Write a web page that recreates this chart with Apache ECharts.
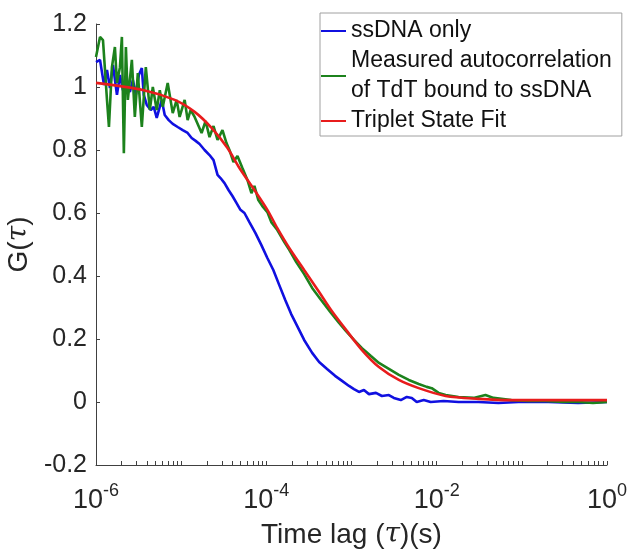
<!DOCTYPE html>
<html>
<head>
<meta charset="utf-8">
<script src="https://cdn.jsdelivr.net/npm/echarts@6/dist/echarts.min.js"></script>
<style>
html,body{margin:0;padding:0;background:#fff;}
#chart{width:627px;height:550px;}
</style>
</head>
<body>
<div id="chart"></div>
<script>
// x values are log10 of the time lag tau (s)
const seriesNames = ['ssDNA only', 'Measured autocorrelation\nof TdT bound to ssDNA', 'Triplet State Fit'];

const blueLogTau = [-6,-5.953,-5.906,-5.871,-5.836,-5.801,-5.754,-5.719,-5.684,-5.649,-5.602,-5.567,-5.532,-5.497,-5.462,-5.439,-5.404,-5.357,-5.322,-5.287,-5.251,-5.228,-5.193,-5.146,-5.099,-5.041,-4.982,-4.924,-4.877,-4.830,-4.784,-4.725,-4.667,-4.620,-4.573,-4.538,-4.491,-4.444,-4.398,-4.351,-4.304,-4.257,-4.199,-4.129,-4.058,-3.988,-3.918,-3.848,-3.778,-3.708,-3.637,-3.556,-3.462,-3.380,-3.287,-3.193,-3.111,-3.029,-2.971,-2.912,-2.854,-2.795,-2.713,-2.643,-2.561,-2.503,-2.421,-2.351,-2.292,-2.234,-2.152,-2.070,-1.918,-1.743,-1.509,-1.275,-1.041,-0.690,-0.339,0];
const blueG = [1.079,1.086,1.006,1.054,0.997,1.070,0.975,1.038,0.990,1.022,0.984,1.022,0.975,1.038,1.060,0.975,0.943,0.927,0.937,0.902,0.937,0.959,0.911,0.895,0.883,0.873,0.863,0.854,0.838,0.829,0.819,0.800,0.784,0.768,0.721,0.711,0.695,0.673,0.654,0.632,0.610,0.600,0.571,0.537,0.498,0.457,0.419,0.371,0.324,0.279,0.241,0.197,0.156,0.127,0.105,0.083,0.067,0.051,0.041,0.032,0.038,0.025,0.029,0.019,0.022,0.013,0.006,0.016,0.013,0.000,0.006,0.000,0.003,0.000,0.000,-0.003,0.000,0.000,-0.003,0.000];

const greenLogTau = [-6,-5.953,-5.918,-5.871,-5.848,-5.813,-5.778,-5.754,-5.719,-5.696,-5.673,-5.649,-5.626,-5.579,-5.544,-5.509,-5.462,-5.415,-5.368,-5.333,-5.287,-5.251,-5.216,-5.158,-5.099,-5.053,-5.018,-4.959,-4.924,-4.889,-4.842,-4.760,-4.713,-4.667,-4.620,-4.573,-4.515,-4.468,-4.433,-4.386,-4.339,-4.281,-4.222,-4.175,-4.140,-4.094,-4.047,-3.988,-3.942,-3.871,-3.789,-3.731,-3.649,-3.556,-3.462,-3.357,-3.240,-3.146,-3.064,-2.971,-2.877,-2.772,-2.678,-2.561,-2.444,-2.327,-2.211,-2.117,-2.058,-1.977,-1.895,-1.743,-1.567,-1.427,-1.333,-1.123,-0.924,-0.725,-0.515,-0.339,-0.164,0];
const greenG = [1.095,1.159,1.149,0.959,0.873,1.063,1.127,1.013,1.063,1.159,0.790,1.127,0.959,1.086,0.905,1.044,0.873,1.063,0.927,1.000,0.927,0.990,0.937,1.013,0.917,0.959,0.905,0.959,0.895,0.927,0.905,0.854,0.892,0.841,0.876,0.832,0.863,0.822,0.800,0.762,0.781,0.743,0.705,0.663,0.686,0.641,0.622,0.603,0.571,0.546,0.508,0.483,0.444,0.406,0.362,0.324,0.283,0.251,0.225,0.197,0.171,0.146,0.124,0.105,0.086,0.070,0.057,0.048,0.044,0.029,0.022,0.016,0.013,0.022,0.013,0.006,0.003,0.003,0.000,0.000,-0.003,0.000];

const redLogTau = [-6,-5.439,-5.076,-4.842,-4.643,-4.456,-4.316,-4.140,-3.988,-3.871,-3.731,-3.556,-3.380,-3.240,-3.064,-2.877,-2.678,-2.444,-2.211,-1.895,-1.509,-1.123,-0.573,0];
const redG = [1.013,0.990,0.959,0.921,0.870,0.806,0.743,0.673,0.610,0.552,0.489,0.419,0.349,0.292,0.229,0.165,0.111,0.070,0.044,0.019,0.010,0.006,0.006,0.006];

const xLabelExps = [-6, -4, -2, 0];
const decadeTickOffsets = [0, 0.301, 0.477, 0.602, 0.699, 0.778, 0.845, 0.903, 0.954];
const yTicks = [-0.2, 0, 0.2, 0.4, 0.6, 0.8, 1, 1.2];

const colors = ['#1010e0', '#1c821c', '#e81c1c'];

function pairs(xs, ys) { return xs.map((x, i) => [x, ys[i]]); }

const xTickValues = [];
for (let d = -6; d < 0; d++) decadeTickOffsets.forEach(o => xTickValues.push(d + o));
xTickValues.push(0);

const font = '"Liberation Sans", Arial, Helvetica, sans-serif';
const txt = '#262626';
const axisCol = '#404040';

const chart = echarts.init(document.getElementById('chart'), null, {renderer: 'canvas'});
chart.setOption({
  animation: false,
  backgroundColor: '#fff',
  color: colors,
  textStyle: {fontFamily: font},
  grid: {left: 96, right: 20, top: 24, bottom: 85, containLabel: false, outerBoundsMode: 'none'},
  legend: {
    left: 320, top: 13,
    orient: 'vertical',
    padding: [3, 10, 0, 1],
    itemGap: 0,
    itemWidth: 25, itemHeight: 2,
    icon: 'rect',
    borderColor: '#a0a0a0', borderWidth: 1,
    backgroundColor: '#fff',
    textStyle: {fontSize: 23, lineHeight: 30, color: '#111', fontFamily: font},
    data: seriesNames
  },
  xAxis: {
    type: 'value', min: -6, max: 0, interval: 2,
    name: 'Time lag ({i|τ})(s)',
    nameLocation: 'middle', nameGap: 56,
    nameTextStyle: {fontSize: 28, color: txt, fontFamily: font,
      rich: {i: {fontSize: 28, fontStyle: 'italic', fontFamily: '"DejaVu Serif", serif', color: txt}}},
    axisLine: {show: true, onZero: false, lineStyle: {color: axisCol, width: 1}},
    axisTick: {show: true, inside: true, length: 4, customValues: xTickValues, lineStyle: {color: axisCol}},
    axisLabel: {
      customValues: xLabelExps,
      margin: 17, color: txt,
      formatter: v => '{b|10}{s|' + v + '}',
      rich: {
        b: {fontSize: 27, lineHeight: 32, verticalAlign: 'bottom', color: txt, fontFamily: font},
        s: {fontSize: 18, lineHeight: 18, verticalAlign: 'top', color: txt, fontFamily: font}
      }
    },
    splitLine: {show: false}
  },
  yAxis: {
    type: 'value', min: -0.2, max: 1.2, interval: 0.2,
    name: 'G({i|τ})',
    nameLocation: 'middle', nameGap: 55, nameRotate: 90,
    nameTextStyle: {fontSize: 28, color: txt, fontFamily: font,
      rich: {i: {fontSize: 28, fontStyle: 'italic', fontFamily: '"DejaVu Serif", serif', color: txt}}},
    axisLine: {show: true, onZero: false, lineStyle: {color: axisCol, width: 1}},
    axisTick: {show: true, inside: true, length: 4, customValues: yTicks, lineStyle: {color: axisCol}},
    axisLabel: {
      customValues: yTicks,
      margin: 9, fontSize: 25, color: txt, fontFamily: font,
      padding: [4, 0, 0, 0],
      formatter: v => String(+Number(v).toFixed(1))
    },
    splitLine: {show: false}
  },
  series: [
    {name: seriesNames[0], type: 'line', data: pairs(blueLogTau, blueG), showSymbol: false, symbol: 'none', lineStyle: {width: 2.6}, z: 2},
    {name: seriesNames[1], type: 'line', data: pairs(greenLogTau, greenG), showSymbol: false, symbol: 'none', lineStyle: {width: 2.6}, z: 3},
    {name: seriesNames[2], type: 'line', data: pairs(redLogTau, redG), showSymbol: false, symbol: 'none', smooth: 0.3, lineStyle: {width: 2.6}, z: 4}
  ]
});
</script>
</body>
</html>
